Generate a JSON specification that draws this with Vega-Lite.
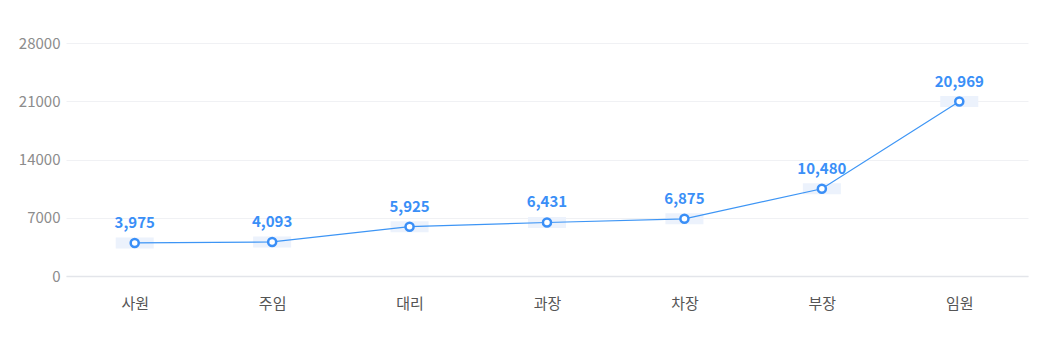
{
  "$schema": "https://vega.github.io/schema/vega-lite/v6.json",
  "width": 962,
  "height": 233,
  "autosize": {"type": "none"},
  "padding": {"left": 66, "top": 43, "right": 25, "bottom": 79},
  "background": "white",
  "config": {
    "view": {"stroke": null},
    "font": "Noto Sans CJK KR"
  },
  "data": {
    "values": [
      {"rank": "사원", "value": 3975},
      {"rank": "주임", "value": 4093},
      {"rank": "대리", "value": 5925},
      {"rank": "과장", "value": 6431},
      {"rank": "차장", "value": 6875},
      {"rank": "부장", "value": 10480},
      {"rank": "임원", "value": 20969}
    ]
  },
  "encoding": {
    "x": {
      "field": "rank", "type": "nominal", "sort": null,
      "scale": {"type": "point", "padding": 0.5},
      "axis": {
        "title": null, "labelAngle": 0, "ticks": false,
        "domainColor": "#e3e5ea", "domainWidth": 1.5,
        "labelColor": "#555555", "labelFontSize": 15, "labelPadding": 20,
        "grid": false
      }
    },
    "y": {
      "field": "value", "type": "quantitative",
      "scale": {"domain": [0, 28000], "nice": false},
      "axis": {
        "title": null, "values": [0, 7000, 14000, 21000, 28000], "format": "d",
        "ticks": false, "domain": false,
        "gridColor": "#f0f1f4", "gridWidth": 1,
        "labelColor": "#8c8c8c", "labelFontSize": 15, "labelPadding": 6
      }
    }
  },
  "layer": [
    {
      "mark": {"type": "point", "shape": "M-1.9,-0.55L1.9,-0.55L1.9,0.55L-1.9,0.55Z", "filled": true, "fill": "#ecf2fc", "strokeWidth": 0, "opacity": 1, "size": 400}
    },
    {
      "mark": {"type": "line", "color": "#3d95f5", "strokeWidth": 1.2}
    },
    {
      "mark": {"type": "point", "shape": "circle", "filled": true, "fill": "white", "stroke": "#3a8ff7", "strokeWidth": 2.5, "size": 65, "opacity": 1}
    },
    {
      "mark": {"type": "text", "dy": -20, "fontSize": 15, "fontWeight": "bold", "color": "#3a8ff7"},
      "encoding": {"text": {"field": "value", "type": "quantitative", "format": ","}}
    }
  ]
}
